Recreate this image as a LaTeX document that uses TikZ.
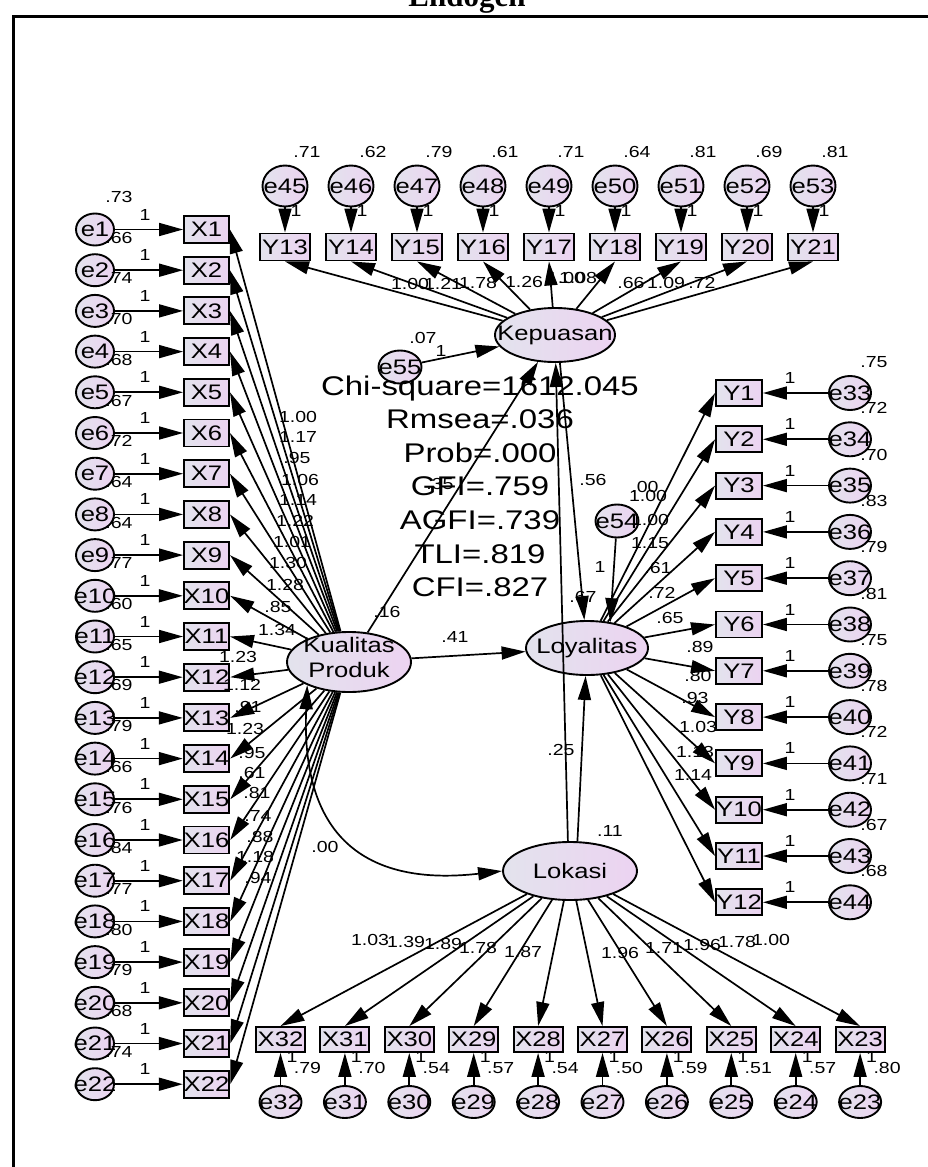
\documentclass[tikz,border=0pt]{standalone}
\usepackage{fontspec}
\setmainfont{Liberation Sans}[FakeStretch=1.22]
\newfontfamily\titlefont{Liberation Serif}
\usetikzlibrary{arrows.meta,shapes.geometric}
\definecolor{amoslo}{HTML}{E3E3ED}
\definecolor{amoshi}{HTML}{ECD3F1}
\newcommand{\zw}[1]{\makebox[0pt]{#1}}

\begin{document}
\begin{tikzpicture}[x=1pt, y=-1pt,
    obs/.style={draw, line width=1.9pt, left color=amoslo, right color=amoshi,
                inner sep=0pt, minimum width=46pt, minimum height=26pt,
                font=\fontsize{21}{24}\selectfont},
    err/.style={ellipse, draw, line width=1.9pt, left color=amoslo, right color=amoshi,
                inner sep=0pt, minimum width=38pt, minimum height=32pt,
                font=\fontsize{21}{24}\selectfont},
    lat/.style={ellipse, draw, line width=1.9pt, left color=amoslo, right color=amoshi,
                inner sep=0pt, font=\fontsize{21}{25}\selectfont},
    val/.style={inner sep=0pt, font=\fontsize{16}{19}\selectfont},
    fitstat/.style={inner sep=0pt, anchor=base, font=\fontsize{27}{33}\selectfont},
    arr/.style={line width=1.7pt, -{Triangle[length=24pt, width=13pt]}},
    cov/.style={line width=1.7pt, {Triangle[length=24pt, width=13pt]}-{Triangle[length=24pt, width=13pt]}}]
  \useasboundingbox (0,0) rectangle (927,1167);

  % caption and frame
  \node[font=\titlefont\bfseries\fontsize{31}{36}\selectfont, anchor=base] (title) at (467,6) {Endogen};
  \draw[line width=3pt] (13,1180) -- (13,16) -- (940,16);

  % latent variables
  \node[lat, minimum width=124pt, minimum height=60pt] (KP) at (349,662)
    {\zw{\raisebox{-3pt}[0pt][0pt]{\begin{tabular}{@{}c@{}}Kualitas\\Produk\end{tabular}}}};
  \node[lat, minimum width=120pt, minimum height=54pt] (Kep) at (555,335) {\zw{Kepuasan}};
  \node[lat, minimum width=122pt, minimum height=54pt] (Loy) at (587,648) {\zw{Loyalitas}};
  \node[lat, minimum width=134pt, minimum height=58pt] (Lok) at (570,871) {\zw{Lokasi}};
  \node[err, minimum width=43pt, minimum height=33pt] (e55) at (400,367) {\zw{e55}};
  \node[err, minimum width=43pt, minimum height=33pt] (e54) at (617,521) {\zw{e54}};

  % fit statistics
  \foreach \t [count=\k] in {Chi-square=1612.045,Rmsea=.036,Prob=.000,GFI=.759,AGFI=.739,TLI=.819,CFI=.827}
    \node[fitstat] (stat\k) at (480,395+33.6*\k-33.6) {\t};

  % Kualitas Produk indicators
  \foreach \i/\v in {1/.73,2/.66,3/.74,4/.70,5/.68,6/.67,7/.72,8/.64,9/.64,10/.77,11/.60,
                     12/.65,13/.69,14/.79,15/.66,16/.76,17/.84,18/.77,19/.80,20/.79,21/.68,22/.74} {
    \pgfmathsetmacro{\yy}{229.5+40.7*(\i-1)}
    \node[err] (e\i) at (95,\yy) {\zw{e\i}};
    \node[obs, minimum width=45pt, minimum height=27pt] (X\i) at (206.5,\yy) {X\i};
    \draw[arr] (e\i) -- (X\i);
    \node[val] (ve\i) at (119,\yy-32.5) {\v};
    \node[val] (one\i) at (145,\yy-15) {1};
  }

  % Kepuasan indicators
  \foreach \k/\v in {0/.71,1/.62,2/.79,3/.61,4/.71,5/.64,6/.81,7/.69,8/.81} {
    \pgfmathtruncatemacro{\n}{13+\k}
    \pgfmathtruncatemacro{\m}{45+\k}
    \pgfmathsetmacro{\xx}{285+66*\k}
    \node[err, minimum width=45pt, minimum height=41pt] (e\m) at (\xx,186) {\zw{e\m}};
    \node[obs, minimum width=50pt, minimum height=27pt] (Y\n) at (\xx,247) {Y\n};
    \draw[arr] (e\m) -- (Y\n);
    \node[val] (ve\m) at (\xx+22,152) {\v};
    \node[val] (one\m) at (\xx+11,211) {1};
  }

  % Loyalitas indicators
  \foreach \i/\v in {1/.75,2/.72,3/.70,4/.83,5/.79,6/.81,7/.75,8/.78,9/.72,10/.71,11/.67,12/.68} {
    \pgfmathtruncatemacro{\m}{32+\i}
    \pgfmathsetmacro{\yy}{393+46.3*(\i-1)}
    \node[err, minimum width=42pt, minimum height=34pt] (e\m) at (850,\yy) {\zw{e\m}};
    \node[obs] (Y\i) at (739,\yy) {Y\i};
    \draw[arr] (e\m) -- (Y\i);
    \node[val] (ve\m) at (874,\yy-31) {\v};
    \node[val] (one\m) at (790,\yy-15) {1};
  }

  % Lokasi indicators
  \foreach \k/\v in {0/.79,1/.70,2/.54,3/.57,4/.54,5/.50,6/.59,7/.51,8/.57,9/.80} {
    \pgfmathtruncatemacro{\n}{32-\k}
    \pgfmathsetmacro{\xx}{280.5+64.4*\k}
    \node[obs, minimum width=49pt, minimum height=25pt] (X\n) at (\xx,1039.5) {X\n};
    \node[err, minimum width=42pt, minimum height=32pt] (e\n) at (\xx,1102) {\zw{e\n}};
    \draw[arr] (e\n) -- (X\n);
    \node[val] (ve\n) at (\xx+27,1068) {\v};
    \node[val] (one\n) at (\xx+11.5,1057) {1};
  }

  % loadings
  \foreach \i/\v/\px/\py in {1/1.00/298/417,2/1.17/298/437,3/.95/297/458,4/1.06/300/480,
      5/1.14/298/500,6/1.22/295/521,7/1.01/292/542,8/1.30/288/563,9/1.28/285/585,
      10/.85/278/607,11/1.34/277/630,12/1.23/238/657,13/1.12/242/685,14/.91/248/707,
      15/1.23/245/729,16/.95/252/753,17/.61/252/773,18/.81/257/793,19/.74/258/816,
      20/.88/260/837,21/1.18/255/857,22/.94/258/878} {
    \draw[arr] (KP) -- (X\i.east);
    \node[val] (wX\i) at (\px,\py) {\v};
  }
  \foreach \i/\v/\px/\py in {13/1.00/410/284,14/1.21/443/284,15/1.78/478/283,16/1.26/524/282,
      17/1.00/566/278,18/1.08/578/278,19/.66/631/283,20/1.09/666/283,21/.72/702/283} {
    \draw[arr] (Kep) -- (Y\i.south);
    \node[val] (wY\i) at (\px,\py) {\v};
  }
  \foreach \i/\v/\px/\py in {1/1.00/648/496,2/1.00/650/520,3/1.15/650/543,4/.61/658/568,
      5/.72/662/593,6/.65/670/618,7/.89/700/647,8/.80/698/676,9/.93/695/698,
      10/1.03/698/727,11/1.13/695/752,12/1.14/693/775} {
    \draw[arr] (Loy) -- (Y\i.west);
    \node[val] (wY\i) at (\px,\py) {\v};
  }
  \foreach \i/\v/\px/\py in {32/1.03/370/940,31/1.39/406/942,30/1.89/443/944,29/1.78/478/948,
      28/1.87/523/952,27/1.96/620/953,26/1.71/664/948,25/1.96/702/945,24/1.78/737/942,
      23/1.00/771/940} {
    \draw[arr] (Lok) -- (X\i.north);
    \node[val] (wX\i) at (\px,\py) {\v};
  }

  % structural paths
  \draw[arr] (e55) -- (Kep);
  \draw[arr] (KP) -- (Kep);
  \draw[arr] (KP) -- (Loy);
  \draw[arr] (Lok.94) -- (Kep);
  \draw[arr] (Lok.76) -- (Loy);
  \draw[arr] (Kep.-80) -- (Loy);
  \draw[arr] (e54) -- (Loy.48);
  \draw[cov] (KP.209) .. controls (300,850) and (380,885) .. (Lok.west);

  % estimates on the structural part
  \node[val] (v55) at (423,338) {.07};
  \node[val] (one55) at (441,351) {1};
  \node[val] (v54) at (645,487) {.00};
  \node[val] (one54) at (600,567) {1};
  \node[val] (vKP) at (387,612) {.16};
  \node[val] (vLok) at (610,831) {.11};
  \node[val] (vLoy) at (583,597) {.67};
  \node[val] (pKepLoy) at (593,480) {.56};
  \node[val] (pKPKep) at (440,484) {.35};
  \node[val] (pKPLoy) at (455,637) {.41};
  \node[val] (pLokLoy) at (561,750) {.25};
  \node[val] (cKPLok) at (325,847) {.00};
\end{tikzpicture}
\end{document}
